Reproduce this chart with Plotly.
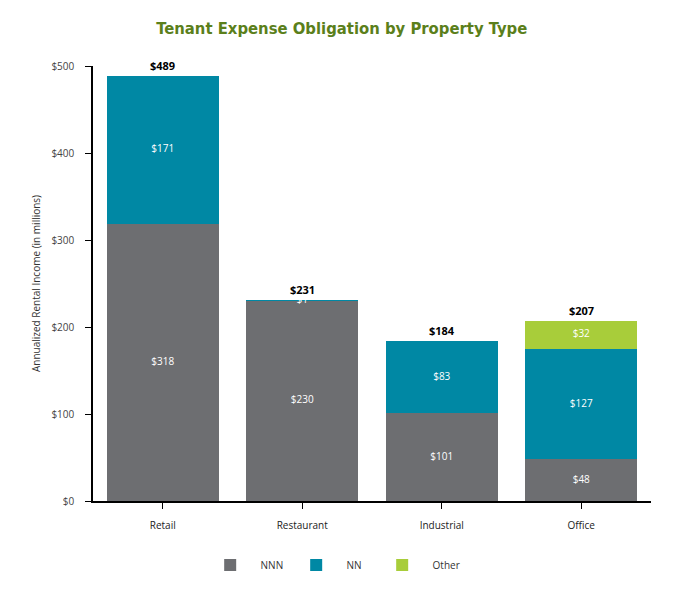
import plotly.graph_objects as go

categories = ["Retail", "Restaurant", "Industrial", "Office"]
nnn = [318, 230, 101, 48]
nn = [171, 1, 83, 127]
other = [0, 0, 0, 32]
series_names = ["NNN", "NN", "Other"]
colors = ["#6d6e71", "#0088a4", "#a8cd3a"]
y_ticks = [0, 100, 200, 300, 400, 500]
y_tick_labels = ["$0", "$100", "$200", "$300", "$400", "$500"]

series = [nnn, nn, other]
fig = go.Figure()
for name, vals, col in zip(series_names, series, colors):
    fig.add_trace(go.Bar(
        x=categories, y=vals, name="\u00a0\u00a0\u00a0\u00a0" + name,
        marker=dict(color=col, line=dict(width=0)), hoverinfo="skip",
    ))

# segment labels at segment midpoints
base = [0] * len(categories)
lx, ly, lt = [], [], []
for vals in series:
    for i, v in enumerate(vals):
        if v > 0:
            lx.append(categories[i]); ly.append(base[i] + v / 2); lt.append(f"${v}")
        base[i] += v
fig.add_trace(go.Scatter(
    x=lx, y=ly, text=lt, mode="text", showlegend=False, hoverinfo="skip",
    textfont=dict(color="white", size=10, family="Open Sans, sans-serif"),
))

totals = base
for c, t in zip(categories, totals):
    fig.add_annotation(x=c, y=t, text=f"<b>${t}</b>", showarrow=False,
                       yanchor="bottom", yshift=1,
                       font=dict(size=11, color="black", family="Open Sans, sans-serif"))

fig.update_layout(
    width=684, height=600,
    barmode="stack", bargap=0.2,
    plot_bgcolor="white", paper_bgcolor="white",
    margin=dict(l=85, r=41, t=58, b=107),
    title=dict(text="<b>Tenant Expense Obligation by Property Type</b>", x=0.488, xanchor="center",
               y=0.967, yanchor="middle",
               font=dict(size=16.5, color="#5b7f1b", family="DejaVu Sans Condensed, Open Sans, sans-serif")),
    font=dict(family="Open Sans, sans-serif", size=10, color="#333333"),
    xaxis=dict(range=[-0.5, 3.5], showline=True, linecolor="black", linewidth=1.5,
               ticks="outside", ticklen=6, tickcolor="black", showgrid=False,
               tickfont=dict(size=10, color="#222222"), ticklabelstandoff=8),
    yaxis=dict(range=[0, 500], tickvals=y_ticks, ticktext=y_tick_labels,
               showline=True, linecolor="black", linewidth=1.5,
               ticks="outside", ticklen=6, tickcolor="black", showgrid=False, zeroline=False,
               tickfont=dict(size=10, color="#444444"), ticklabelstandoff=9,
               title=dict(text="Annualized Rental Income (in millions)", standoff=9,
                          font=dict(size=10, color="#333333"))),
    legend=dict(orientation="h", x=0.21, xanchor="left", y=-0.114, yanchor="top",
                traceorder="normal", entrywidth=41, itemsizing="constant",
                font=dict(size=10, color="#333333")),
)
fig.write_html("out.html")
